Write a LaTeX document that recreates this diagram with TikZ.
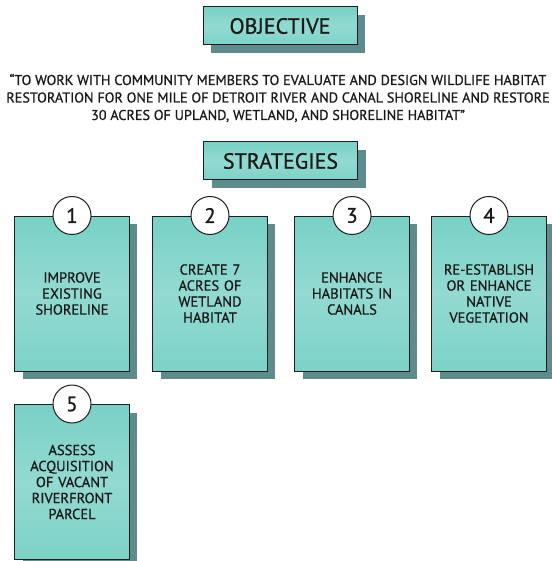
\documentclass[tikz,border=0pt]{standalone}
\usepackage{fontspec}
\setmainfont{PT Sans}[FakeBold=0.8]
\usetikzlibrary{shadows, positioning}
\definecolor{waterdeep}{HTML}{78D1C6}
\definecolor{waterpale}{HTML}{93DAD1}
\definecolor{shadowgray}{HTML}{5F8B8D}
\definecolor{darkline}{HTML}{1E1E1E}
\definecolor{inktext}{HTML}{1A1A1A}
\tikzset{
  flatshadow/.style={drop shadow={shadow xshift=8pt, shadow yshift=-8pt,
                     fill=shadowgray, opacity=1}},
  wash/.style={top color=waterdeep, bottom color=waterdeep!85!waterpale,
               middle color=waterpale},
  banner/.style={rectangle, draw=darkline, line width=1pt, wash,
                 flatshadow, minimum width=154pt, minimum height=38pt,
                 font=\fontsize{22}{24}\selectfont, text=inktext},
  card/.style={rectangle, draw=darkline, line width=1pt, wash,
               flatshadow, minimum width=114pt, minimum height=155pt,
               text width=108pt, align=center, text=inktext,
               font=\fontsize{14.5}{16}\selectfont},
  badge/.style={circle, draw=darkline, line width=1pt, fill=white,
                minimum size=38pt, inner sep=0pt, text=inktext,
                font=\fontsize{21}{22}\selectfont},
  quote/.style={align=center, text=inktext, font=\fontsize{14.2}{17.5}\selectfont},
}

\begin{document}
\begin{tikzpicture}[x=1pt, y=-1pt]
\useasboundingbox (0,0) rectangle (551,561);

% Headings and the objective statement
\node[banner] (objective)  at (280,26)  {OBJECTIVE};
\node[quote]  (statement)  at (278,98)
  {“TO WORK WITH COMMUNITY MEMBERS TO EVALUATE AND DESIGN WILDLIFE HABITAT\\
   RESTORATION FOR ONE MILE OF DETROIT RIVER AND CANAL SHORELINE AND RESTORE\\
   30 ACRES OF UPLAND, WETLAND, AND SHORELINE HABITAT”};
\node[banner] (strategies) at (280.5,161) {STRATEGIES};

% Strategy cards, each with its number badge on the top edge
\node[card] (s1) at (72,293.5)  {IMPROVE\\EXISTING\\SHORELINE};
\node[card] (s2) at (210,293.5) {CREATE 7\\ACRES OF\\WETLAND\\HABITAT};
\node[card] (s3) at (352,293.5) {ENHANCE\\HABITATS IN\\CANALS};
\node[card] (s4) at (489,293.5) {RE-ESTABLISH\\OR ENHANCE\\NATIVE\\VEGETATION};
\node[card] (s5) at (72,482)    {ASSESS\\ACQUISITION\\OF VACANT\\RIVERFRONT\\PARCEL};

\foreach \n/\k in {s1/1, s2/2, s3/3, s4/4, s5/5} {
  \node[badge] (badge\k) at (\n.north) {\k};
}

\end{tikzpicture}
\end{document}
